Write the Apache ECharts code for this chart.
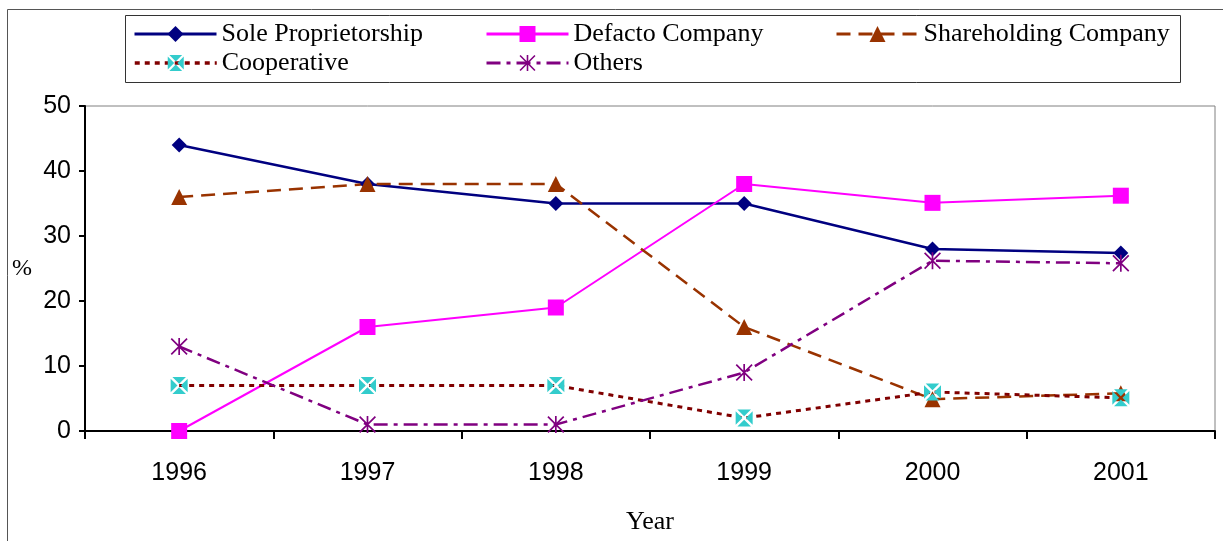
<!DOCTYPE html>
<html>
<head>
<meta charset="utf-8">
<script src="https://cdn.jsdelivr.net/npm/echarts@6/dist/echarts.min.js"></script>
<style>
  html, body { margin: 0; padding: 0; background: #fff; }
  #chart { width: 1223px; height: 541px; }
</style>
</head>
<body>
<div id="chart"></div>
<script>
// data
const years = ['1996', '1997', '1998', '1999', '2000', '2001']
const soleProprietorship = [44, 38, 35, 35, 28, 27.4]
const defactoCompany = [0, 16, 19, 38, 35.1, 36.2]
const shareholdingCompany = [36, 38, 38, 16, 4.9, 5.8]
const cooperative = [7, 7, 7, 2, 6, 5.1]
const others = [13, 1, 1, 9, 26.2, 25.8]

// cyan square with a white cross cut through it
const crossBox = 'path://M2,0 L18,0 L10,8 Z M20,2 L20,18 L12,10 Z M2,20 L18,20 L10,12 Z M0,2 L0,18 L8,10 Z'
// asterisk: vertical bar plus two diagonals
const asterisk = 'path://M9,0 L11,0 L11,20 L9,20 Z M0,1.4 L1.4,0 L20,18.6 L18.6,20 Z M18.6,0 L20,1.4 L1.4,20 L0,18.6 Z'

const serif = '"Liberation Serif", "Times New Roman", serif'
const sans = '"Liberation Sans", Arial, sans-serif'

function legendAt(name, left, top, width) {
  return {
    data: [name],
    left: left,
    top: top,
    itemWidth: 82,
    itemHeight: 20,
    padding: 0,
    selectedMode: false,
    lineStyle: { width: width },
    textStyle: { fontFamily: serif, fontSize: 26, color: '#000' }
  }
}

const chart = echarts.init(document.getElementById('chart'))
chart.setOption({
  animation: false,
  backgroundColor: '#fff',
  graphic: [
    { type: 'rect', shape: { x: 7.5, y: 9.5, width: 1240, height: 560 }, style: { fill: null, stroke: '#555', lineWidth: 1 } },
    { type: 'rect', shape: { x: 125.5, y: 15.5, width: 1055, height: 67 }, style: { fill: null, stroke: '#333', lineWidth: 1 } }
  ],
  legend: [
    legendAt('Sole Proprietorship', 133, 21, 3),
    legendAt('Defacto Company', 485, 21, 3),
    legendAt('Shareholding Company', 835, 21, 3),
    legendAt('Cooperative', 133, 50, 3.5),
    legendAt('Others', 485, 50, 3)
  ],
  grid: {
    left: 85,
    right: 8,
    top: 106,
    bottom: 110,
    show: true,
    borderColor: '#808080',
    borderWidth: 1
  },
  xAxis: {
    type: 'category',
    data: years,
    boundaryGap: true,
    name: 'Year',
    nameLocation: 'middle',
    nameGap: 78,
    nameTextStyle: { fontFamily: serif, fontSize: 26, color: '#000' },
    axisLine: { lineStyle: { color: '#000', width: 2 } },
    axisTick: { show: true, length: 8, lineStyle: { color: '#000', width: 2 } },
    axisLabel: { margin: 30, fontFamily: sans, fontSize: 25, color: '#000' },
    splitLine: { show: false }
  },
  yAxis: {
    type: 'value',
    min: 0,
    max: 50,
    interval: 10,
    name: '%',
    nameLocation: 'middle',
    nameRotate: 0,
    nameGap: 53,
    nameTextStyle: { fontFamily: serif, fontSize: 24, color: '#000' },
    axisLine: { show: true, lineStyle: { color: '#000', width: 2 } },
    axisTick: { show: true, length: 6, lineStyle: { color: '#000', width: 2 } },
    axisLabel: { margin: 14, fontFamily: sans, fontSize: 25, color: '#000' },
    splitLine: { show: false }
  },
  series: [{
    name: 'Sole Proprietorship',
    type: 'line',
    data: soleProprietorship,
    symbol: 'diamond',
    symbolSize: 15,
    itemStyle: { color: '#000080' },
    lineStyle: { color: '#000080', width: 2.5 }
  }, {
    name: 'Defacto Company',
    type: 'line',
    data: defactoCompany,
    symbol: 'rect',
    symbolSize: 16,
    itemStyle: { color: '#FF00FF' },
    lineStyle: { color: '#FF00FF', width: 2 }
  }, {
    name: 'Shareholding Company',
    type: 'line',
    data: shareholdingCompany,
    symbol: 'triangle',
    symbolSize: 16,
    itemStyle: { color: '#993300' },
    lineStyle: { color: '#993300', width: 2.5, type: [14, 8] }
  }, {
    name: 'Cooperative',
    type: 'line',
    data: cooperative,
    symbol: crossBox,
    symbolSize: 17,
    itemStyle: { color: '#33CCCC' },
    lineStyle: { color: '#800000', width: 3, type: [5, 5] }
  }, {
    name: 'Others',
    type: 'line',
    data: others,
    symbol: asterisk,
    symbolSize: 17,
    itemStyle: { color: '#800080' },
    lineStyle: { color: '#800080', width: 2.5, type: [14, 6, 4, 6] }
  }]
})
</script>
</body>
</html>
